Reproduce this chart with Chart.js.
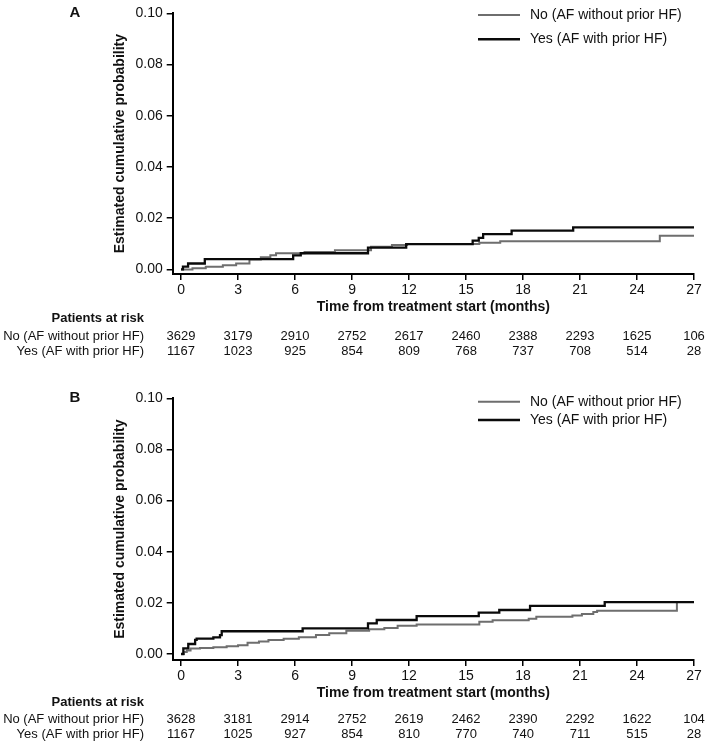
<!DOCTYPE html>
<html>
<head>
<meta charset="utf-8">
<script src="https://cdn.jsdelivr.net/npm/chart.js@4.4.0/dist/chart.umd.min.js"></script>
<style>
  html, body { margin: 0; padding: 0; background: #fff; }
  #wrap { position: relative; width: 709px; height: 747px; }
  canvas { position: absolute; left: 0; }
</style>
</head>
<body>
<div id="wrap">
  <canvas id="chartA" width="709" height="372" style="top:0"></canvas>
  <canvas id="chartB" width="709" height="375" style="top:372px"></canvas>
</div>
<script>
// ---- data ----
const xTicks = [0, 3, 6, 9, 12, 15, 18, 21, 24, 27];
const yTicks = [0, 0.02, 0.04, 0.06, 0.08, 0.10];
const seriesLabels = ["No (AF without prior HF)", "Yes (AF with prior HF)"];

// Panel A
const noA_t  = [0, 0.6, 1.3, 2.2, 2.9, 3.6, 4.2, 4.7, 5.0, 6.5, 8.1, 10.0, 11.1, 11.9, 15.7, 16.8, 25.2, 27];
const noA_v  = [0, 0.0004, 0.001, 0.0016, 0.0023, 0.0039, 0.0047, 0.0055, 0.0063, 0.0068, 0.0075, 0.0088, 0.0095, 0.0099, 0.0104, 0.011, 0.0131, 0.0131];
const yesA_t = [0, 0.1, 0.37, 1.25, 5.9, 6.3, 9.84, 11.85, 15.35, 15.67, 15.9, 17.4, 20.64, 27];
const yesA_v = [0, 0.0011, 0.0023, 0.004, 0.0055, 0.0063, 0.0085, 0.0099, 0.0112, 0.0123, 0.0138, 0.0151, 0.0164, 0.0164];
const riskNoA  = [3629, 3179, 2910, 2752, 2617, 2460, 2388, 2293, 1625, 106];
const riskYesA = [1167, 1023, 925, 854, 809, 768, 737, 708, 514, 28];

// Panel B
const noB_t  = [0, 0.15, 0.3, 0.5, 1.0, 1.7, 2.4, 3.0, 3.5, 4.1, 4.6, 5.4, 6.2, 7.1, 7.8, 8.7, 9.9, 10.7, 11.4, 12.4, 15.7, 16.4, 18.3, 18.7, 20.6, 21.1, 21.7, 21.9, 26.1, 27];
const noB_v  = [0, 0.0008, 0.0014, 0.0021, 0.0023, 0.0026, 0.003, 0.0034, 0.0044, 0.0049, 0.0055, 0.006, 0.0065, 0.0074, 0.0081, 0.0091, 0.0097, 0.0102, 0.011, 0.0115, 0.0126, 0.0132, 0.0138, 0.0146, 0.0151, 0.0156, 0.0164, 0.0169, 0.0203, 0.0203];
const yesB_t = [0, 0.12, 0.38, 0.74, 0.82, 1.7, 2.05, 2.14, 6.4, 9.84, 10.3, 12.4, 15.67, 16.75, 18.37, 22.3, 27];
const yesB_v = [0, 0.0022, 0.0039, 0.0055, 0.006, 0.0065, 0.0074, 0.0089, 0.01, 0.012, 0.0133, 0.0148, 0.0162, 0.0172, 0.0188, 0.0203, 0.0203];
const riskNoB  = [3628, 3181, 2914, 2752, 2619, 2462, 2390, 2292, 1622, 104];
const riskYesB = [1167, 1025, 927, 854, 810, 770, 740, 711, 515, 28];

// ---- theme ----
const FONT = "'Liberation Sans', Arial, sans-serif";
const INK = "#111";
const GREY = "#6e6e6e";
const BLACK = "#0a0a0a";

Chart.defaults.font.family = FONT;
Chart.defaults.color = INK;

const pts = (t, v) => t.map((x, i) => ({ x: x, y: v[i] }));

function makePanel(id, p) {
  const decor = {
    id: "decor" + p.letter,
    afterDraw(chart) {
      const ctx = chart.ctx;
      const area = chart.chartArea;
      const xs = chart.scales.x;
      ctx.save();
      ctx.fillStyle = INK;
      // panel letter
      ctx.font = "bold 15px " + FONT;
      ctx.textAlign = "center";
      ctx.textBaseline = "middle";
      ctx.fillText(p.letter, 75, area.top);
      // legend
      const cols = [GREY, BLACK];
      const widths = [2, 2.5];
      ctx.font = "14px " + FONT;
      ctx.textAlign = "left";
      seriesLabels.forEach((lab, i) => {
        const ly = p.legendY[i];
        ctx.strokeStyle = cols[i];
        ctx.lineWidth = widths[i];
        ctx.beginPath();
        ctx.moveTo(478, ly);
        ctx.lineTo(520, ly);
        ctx.stroke();
        ctx.fillText(lab, 530, ly);
      });
      // patients at risk table
      const b = area.bottom;
      ctx.textAlign = "right";
      ctx.font = "bold 13px " + FONT;
      ctx.fillText("Patients at risk", 144, b + p.rows[0]);
      ctx.font = "13px " + FONT;
      ctx.fillText(seriesLabels[0], 144, b + p.rows[1]);
      ctx.fillText(seriesLabels[1], 144, b + p.rows[2]);
      ctx.textAlign = "center";
      xTicks.forEach((t, i) => {
        const px = xs.getPixelForValue(t);
        ctx.fillText(String(p.riskNo[i]), px, b + p.rows[1]);
        ctx.fillText(String(p.riskYes[i]), px, b + p.rows[2]);
      });
      ctx.restore();
    }
  };

  return new Chart(document.getElementById(id), {
    type: "line",
    data: {
      datasets: [
        { label: seriesLabels[0], data: pts(p.noT, p.noV), borderColor: GREY, borderWidth: 2, stepped: "before", pointRadius: 0, fill: false, order: 2 },
        { label: seriesLabels[1], data: pts(p.yesT, p.yesV), borderColor: BLACK, borderWidth: 2.3, stepped: "before", pointRadius: 0, fill: false, order: 1 },
      ],
    },
    options: {
      responsive: false,
      animation: false,
      layout: { padding: { left: 0, right: 15, top: p.padTop, bottom: p.padBottom } },
      plugins: { legend: { display: false }, tooltip: { enabled: false } },
      scales: {
        x: {
          type: "linear",
          min: -0.44,
          max: 27,
          afterBuildTicks: (s) => { s.ticks = xTicks.map((v) => ({ value: v })); },
          afterFit: (s) => { s.height = 42; },
          grid: { display: true, drawOnChartArea: false, drawTicks: true, tickLength: 6, color: "#000", lineWidth: 1.5 },
          border: { display: true, color: "#000", width: 2 },
          ticks: { autoSkip: false, maxRotation: 0, padding: 2, color: INK, font: { size: 14 }, callback: (v) => String(v) },
          title: { display: true, text: "Time from treatment start (months)", color: INK, font: { size: 14, weight: "bold" }, padding: { top: 0, bottom: 0 } },
        },
        y: {
          type: "linear",
          min: p.yMin,
          max: 0.10,
          afterBuildTicks: (s) => { s.ticks = yTicks.map((v) => ({ value: v })); },
          afterFit: (s) => { s.width = 172.7; },
          grid: { display: true, drawOnChartArea: false, drawTicks: true, tickLength: 6, color: "#000", lineWidth: 1.5 },
          border: { display: true, color: "#000", width: 2 },
          ticks: { padding: 4, color: INK, font: { size: 14 }, callback: (v) => v.toFixed(2) },
          title: { display: true, text: "Estimated cumulative probability", color: INK, font: { size: 14, weight: "bold" }, padding: { top: 111.6, bottom: 0 } },
        },
      },
    },
    plugins: [decor],
  });
}

makePanel("chartA", {
  letter: "A", noT: noA_t, noV: noA_v, yesT: yesA_t, yesV: yesA_v,
  riskNo: riskNoA, riskYes: riskYesA,
  yMin: -0.0018, padTop: 13.3, padBottom: 56,
  legendY: [15, 39.3], rows: [44, 62, 77],
});

makePanel("chartB", {
  letter: "B", noT: noB_t, noV: noB_v, yesT: yesB_t, yesV: yesB_v,
  riskNo: riskNoB, riskYes: riskYesB,
  yMin: -0.00235, padTop: 26.3, padBottom: 45,
  legendY: [29.7, 48], rows: [42, 59, 74],
});
</script>
</body>
</html>
